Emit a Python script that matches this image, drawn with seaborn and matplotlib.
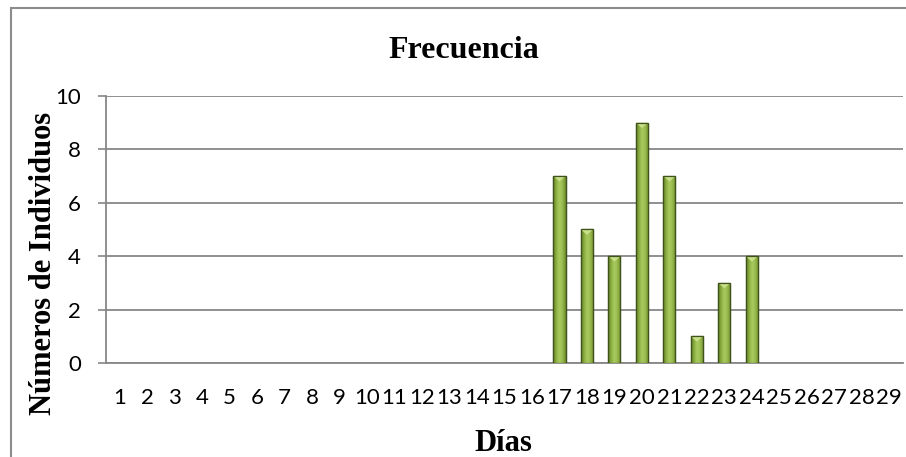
import numpy as np
import pandas as pd
import matplotlib
matplotlib.use("Agg")
import matplotlib.pyplot as plt
from matplotlib.patches import Rectangle, Polygon
from matplotlib.colors import LinearSegmentedColormap
import seaborn as sns

# ---- data ----
dias = [str(d) for d in range(1, 30)]
frecuencia = [0, 0, 0, 0, 0, 0, 0, 0, 0, 0, 0, 0, 0, 0, 0, 0,
              7, 5, 4, 9, 7, 1, 3, 4, 0, 0, 0, 0, 0]
y_ticks = [0, 2, 4, 6, 8, 10]
title = "Frecuencia"
x_title = "Días"
y_title = "Números de Individuos"

df = pd.DataFrame({"Días": dias, "Frecuencia": frecuencia})

sns.set_theme(style="white")
plt.rcParams["font.family"] = ["Lato", "DejaVu Sans"]
plt.rcParams["text.color"] = "black"
plt.rcParams["xtick.color"] = "black"
plt.rcParams["ytick.color"] = "black"

fig = plt.figure(figsize=(9.06, 4.57), dpi=100)
ax = fig.add_axes([0.117, 0.2057, 0.8797, 0.5843])

sns.barplot(data=df, x="Días", y="Frecuencia", order=dias, ax=ax,
            color="#8CB043", width=0.44, edgecolor="#4A5F22", linewidth=0.9,
            saturation=1, zorder=3)

ax.set_xlim(-0.5, len(dias) - 0.5)
ax.set_ylim(0, 10)
ax.set_yticks(y_ticks)
ax.set_yticklabels([str(t) for t in y_ticks])

# gradient + bevel on bars
cmap = LinearSegmentedColormap.from_list(
    "bevel", ["#5E7A22", "#8DB043", "#A9CB60", "#96B84C", "#6C8B2A"])
grad = np.linspace(0, 1, 64).reshape(1, -1)
for p in list(ax.patches):
    h = p.get_height()
    if h <= 0:
        p.set_visible(False)
        continue
    x0, w = p.get_x(), p.get_width()
    im = ax.imshow(grad, cmap=cmap, aspect="auto", extent=(x0, x0 + w, 0, h),
                   zorder=3.5, interpolation="bicubic")
    im.set_clip_path(p)
    tri = Polygon([(x0, h), (x0 + w, h), (x0 + w / 2, h - 0.2)], closed=True,
                  facecolor="#C8E08A", edgecolor="none", zorder=3.8)
    ax.add_patch(tri)
    outline = Rectangle((x0, 0), w, h, fill=False, edgecolor="#3F521C",
                        linewidth=0.9, zorder=4)
    ax.add_patch(outline)

ax.set_xlim(-0.5, len(dias) - 0.5)
ax.set_ylim(0, 10)

# grid and spines
ax.yaxis.grid(True, color="#878787", linewidth=1.3, zorder=0)
ax.xaxis.grid(False)
for s in ["top", "right"]:
    ax.spines[s].set_visible(False)
for s in ["left", "bottom"]:
    ax.spines[s].set_color("#878787")
    ax.spines[s].set_linewidth(1.3)

ax.tick_params(axis="y", length=6, width=1.2, color="#878787", pad=12,
               labelsize=16, left=True, labelcolor="black")
ax.tick_params(axis="x", length=0, pad=18, labelsize=16, labelcolor="black")

ax.set_xlabel("")
ax.set_ylabel("")
fig.text(0.512, 0.873, title, ha="center", va="baseline", color="black",
         fontfamily="Liberation Serif", fontweight="bold", fontsize=23)
fig.text(0.556, 0.013, x_title, ha="center", va="baseline", color="black",
         fontfamily="Liberation Serif", fontweight="bold", fontsize=22)
fig.text(0.048, 0.4245, y_title, ha="center", va="center", rotation=90,
         color="black",
         fontfamily="Liberation Serif", fontweight="bold", fontsize=22)

# chart-area border
fig.patches.append(Rectangle((11 / 906, -0.05), 1.2, (457 - 8) / 457 + 0.05,
                             transform=fig.transFigure, fill=False,
                             edgecolor="#8C8C8C", linewidth=1.5))

fig.savefig("out.png", dpi=100)
